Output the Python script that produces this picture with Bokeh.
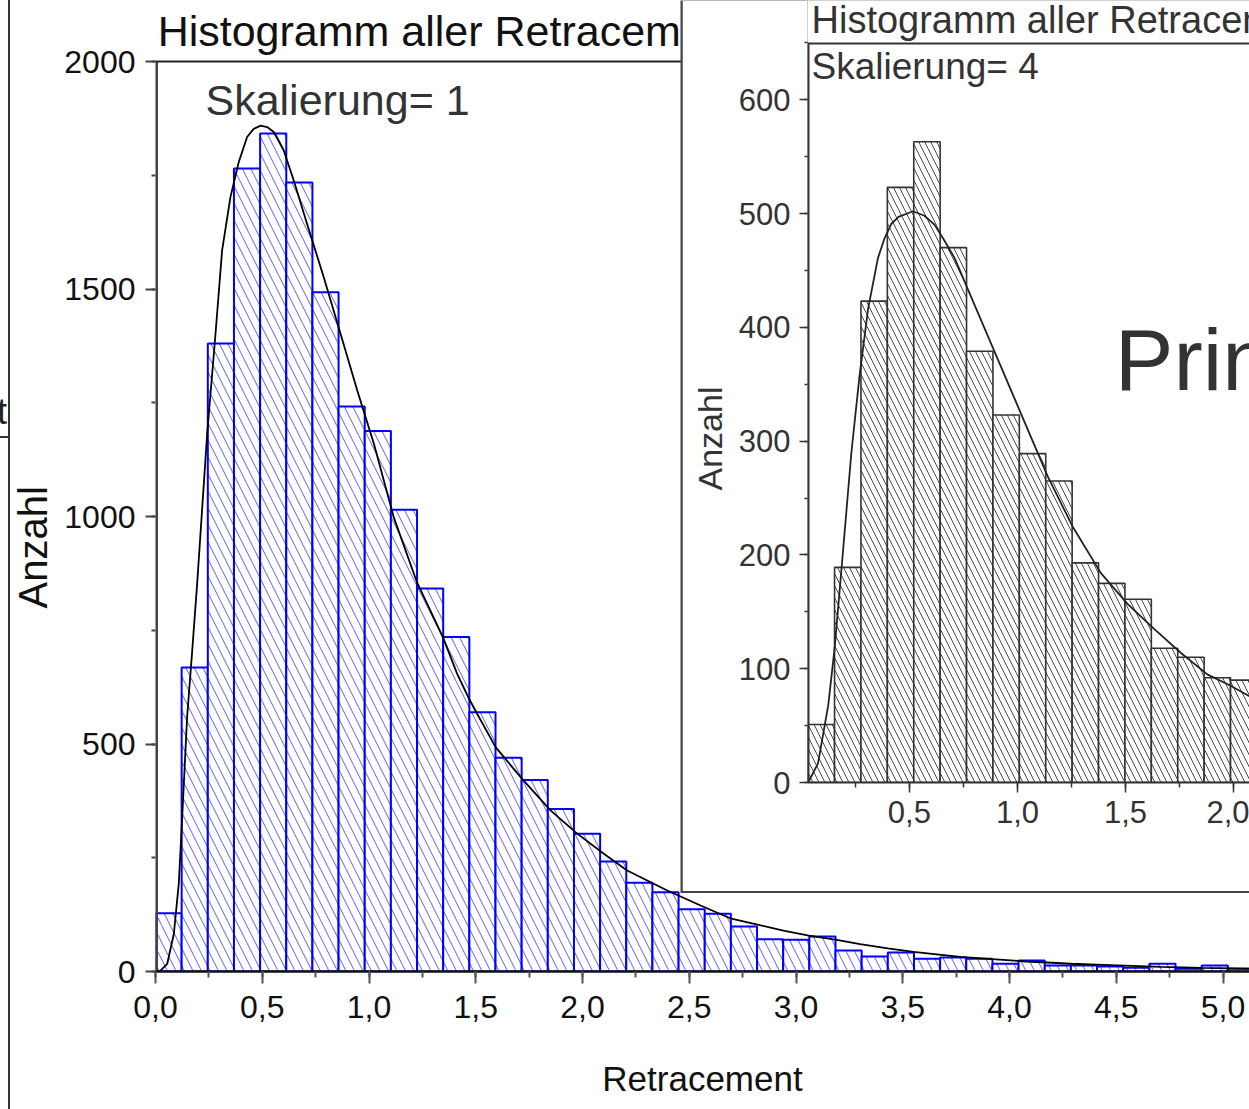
import math
from bokeh.plotting import figure
from bokeh.models import (Range1d, SingleIntervalTicker, CustomJSTickFormatter, Span, Label,
                          GridBox, Title, Div)
from bokeh.embed import file_html
from bokeh.resources import INLINE

# ---------------- data: main histogram (Skalierung = 1) ----------------
main_bin_start = 0.0
main_bin_width = 0.1225
main_counts = [128, 668, 1380, 1765, 1842, 1734, 1493, 1242, 1188, 1015, 842, 735, 570, 470,
               421, 357, 303, 242, 195, 174, 137, 127, 99, 71, 70, 77, 46, 33, 42, 28, 31, 28,
               17, 24, 13, 13, 11, 8, 17, 6, 13, 6, 5]
main_fit_x = [0.02, 0.055, 0.086, 0.109, 0.125, 0.148, 0.172, 0.195, 0.242, 0.281, 0.312, 0.351,
              0.390, 0.429, 0.460, 0.492, 0.523, 0.554, 0.601, 0.648, 0.710, 0.788, 0.867, 0.945,
              1.023, 1.116, 1.225, 1.346, 1.413, 1.468, 1.507, 1.593, 1.714, 1.850, 1.975, 2.100,
              2.209, 2.397, 2.553, 2.697, 2.82, 2.941, 3.06, 3.184, 3.30, 3.43, 3.55, 3.67, 3.77,
              3.92, 4.08, 4.29, 4.47, 4.71, 4.90, 5.15]
main_fit_y = [0, 17, 83, 193, 339, 559, 705, 852, 1182, 1401, 1585, 1702, 1779, 1834, 1852, 1859,
              1856, 1845, 1804, 1738, 1643, 1526, 1401, 1277, 1160, 998, 855, 735, 654, 600, 566,
              493, 425, 354, 303, 259, 222, 178, 145, 116, 103, 90, 79, 70, 60, 51, 43, 37, 32,
              27, 22, 17, 14, 10, 8, 6]
main_y_top = 2000          # top of the main plot box

# ---------------- data: inset histogram (Skalierung = 4) ----------------
inset_bin_start = 0.032
inset_bin_width = 0.1221
inset_counts = [51, 189, 423, 523, 563, 470, 379, 323, 289, 265, 193, 175, 161, 118, 110, 92, 90]
inset_fit_x = [0.032, 0.078, 0.125, 0.155, 0.194, 0.232, 0.270, 0.309, 0.355, 0.385, 0.417, 0.450,
               0.517, 0.570, 0.617, 0.660, 0.709, 0.801, 0.893, 1.001, 1.140, 1.255, 1.386, 1.509,
               1.632, 1.755, 1.878, 1.986, 2.08]
inset_fit_y = [0, 17, 68, 119, 205, 290, 358, 416, 461, 478, 491, 497, 502, 498, 490, 477, 461,
               420, 379, 331, 269, 225, 184, 157, 135, 114, 95, 85, 75]
inset_x_start = 0.029
inset_y_top = 649.4        # top of the inset plot box

comma_fmt = CustomJSTickFormatter(code="return tick.toFixed(1).replace('.', ',');")
REG = "Liberation Sans"

# ---------------- main figure (frame reaches the top of the canvas) ----------------
main_px_per_unit = 910 / 2000
main = figure(width=1249, height=1109, x_range=Range1d(0, 5.124),
              y_range=Range1d(0, 971 / main_px_per_unit),
              output_backend="svg", toolbar_location=None,
              min_border_left=155, min_border_right=0, min_border_top=0, min_border_bottom=138,
              background_fill_color="white", border_fill_color="white")
main.grid.visible = False
main.outline_line_color = None

m_left = [main_bin_start + i * main_bin_width for i in range(len(main_counts))]
m_right = [l + main_bin_width for l in m_left]
main.quad(left=m_left, right=m_right, bottom=0, top=main_counts,
          fill_color="white", line_color="#0000ff", line_width=2,
          hatch_pattern="left_diagonal_line", hatch_color="#5c5cff", hatch_scale=17,
          hatch_weight=1)
main.line(main_fit_x, main_fit_y, line_color="black", line_width=1.8)
main.add_layout(Span(location=main_y_top, dimension="width", line_color="#222222", line_width=2))
main.segment(x0=[0], y0=[0], x1=[0], y1=[main_y_top], line_color="#444444", line_width=5)

xa = main.xaxis[0]
xa.ticker = SingleIntervalTicker(interval=0.5, num_minor_ticks=2)
xa.formatter = comma_fmt
xa.axis_line_color = "#111111"
xa.axis_line_width = 2.5
xa.major_tick_line_color = "#555555"
xa.major_tick_line_width = 2
xa.minor_tick_line_color = "#555555"
xa.minor_tick_line_width = 2
xa.major_tick_in = 0
xa.major_tick_out = 12
xa.minor_tick_in = 0
xa.minor_tick_out = 6
xa.major_label_standoff = 12
xa.major_label_text_font = REG
xa.major_label_text_font_size = "32px"
xa.major_label_text_color = "#111111"
xa.axis_label = "Retracement"
xa.axis_label_text_font = REG
xa.axis_label_text_font_size = "35px"
xa.axis_label_text_font_style = "normal"
xa.axis_label_text_color = "#111111"
xa.axis_label_standoff = 38

ya = main.yaxis[0]
ya.ticker = SingleIntervalTicker(interval=500, num_minor_ticks=2)
ya.axis_line_color = None
ya.major_tick_line_color = "#444444"
ya.major_tick_line_width = 2
ya.minor_tick_line_color = "#444444"
ya.minor_tick_line_width = 2
ya.major_tick_in = 0
ya.major_tick_out = 10
ya.minor_tick_in = 0
ya.minor_tick_out = 4
ya.major_label_standoff = 10
ya.major_label_text_font = REG
ya.major_label_text_font_size = "32px"
ya.major_label_text_color = "#111111"

main.add_layout(Label(x=0.01, y=2066, text="Histogramm aller Retracements",
                      text_font=REG, text_font_size="43px", text_color="#111111",
                      text_baseline="middle", text_align="left"))
main.add_layout(Label(x=0.234, y=1916, text="Skalierung= 1", text_font=REG,
                      text_font_size="43px", text_color="#333333",
                      text_baseline="middle", text_align="left"))
main.add_layout(Title(text="Anzahl", align="left", offset=363, text_font=REG,
                      text_font_size="40px", text_font_style="normal", text_color="#111111",
                      standoff=14), "left")

# ---------------- inset figure ----------------
inset_px_per_unit = 1.138
inset = figure(width=567, height=891, x_range=Range1d(inset_x_start, inset_x_start + 443 / 216.7),
               y_range=Range1d(0, 782 / inset_px_per_unit),
               output_backend="svg", toolbar_location=None,
               min_border_left=124, min_border_right=0, min_border_top=0, min_border_bottom=109,
               background_fill_color="white", border_fill_color="white",
               styles={"position": "relative", "z-index": "2"})
inset.grid.visible = False
inset.outline_line_color = None

i_left = [inset_bin_start + i * inset_bin_width for i in range(len(inset_counts))]
i_right = [l + inset_bin_width for l in i_left]
inset.quad(left=i_left, right=i_right, bottom=0, top=inset_counts,
           fill_color="white", line_color="#333333", line_width=1.6,
           hatch_pattern="left_diagonal_line", hatch_color="#4a4a4a", hatch_scale=12,
           hatch_weight=1)
inset.line(inset_fit_x, inset_fit_y, line_color="#222222", line_width=1.8)
inset.add_layout(Span(location=inset_y_top, dimension="width", line_color="#333333", line_width=2))
inset.segment(x0=[inset_x_start], y0=[0], x1=[inset_x_start], y1=[inset_y_top],
              line_color="#333333", line_width=4)

ixa = inset.xaxis[0]
ixa.ticker = SingleIntervalTicker(interval=0.5, num_minor_ticks=2)
ixa.formatter = comma_fmt
iya = inset.yaxis[0]
iya.ticker = SingleIntervalTicker(interval=100, num_minor_ticks=2)
for ax in (ixa, iya):
    ax.axis_line_color = "#333333"
    ax.axis_line_width = 2
    ax.major_tick_line_color = "#333333"
    ax.major_tick_line_width = 1.5
    ax.minor_tick_line_color = "#333333"
    ax.minor_tick_line_width = 1.5
    ax.major_tick_in = 0
    ax.minor_tick_in = 0
    ax.major_label_text_font = REG
    ax.major_label_text_font_size = "31px"
    ax.major_label_text_color = "#333333"
iya.axis_line_color = None
ixa.major_tick_out = 10
ixa.minor_tick_out = 5
ixa.major_label_standoff = 8
iya.major_tick_out = 8
iya.minor_tick_out = 3
iya.major_label_standoff = 9

inset.add_layout(Label(x=0.0475, y=670, text="Histogramm aller Retracements", text_font=REG,
                       text_font_size="38px", text_color="#333333",
                       text_baseline="middle", text_align="left"))
inset.add_layout(Label(x=0.0475, y=629, text="Skalierung= 4", text_font=REG,
                       text_font_size="37px", text_color="#333333",
                       text_baseline="middle", text_align="left"))
inset.add_layout(Label(x=1.45, y=372, text="Prinzip", text_font=REG, text_font_size="88px",
                       text_color="#333333", text_baseline="middle", text_align="left"))
inset.add_layout(Title(text="Anzahl", align="left", offset=782 - 490, text_font=REG,
                       text_font_size="34px", text_font_style="normal", text_color="#333333",
                       standoff=13), "left")

# ---------------- frame pieces of the pasted screenshot ----------------
backdrop = figure(width=569, height=893, output_backend="svg", toolbar_location=None,
                  x_axis_type=None, y_axis_type=None, min_border=0,
                  background_fill_color="#444444", border_fill_color="#444444",
                  styles={"position": "relative", "z-index": "1"})
backdrop.grid.visible = False
backdrop.outline_line_color = None

strip_html = (
    '<div style="position:relative;width:12px;height:1109px;overflow:hidden;">'
    '<div style="position:absolute;left:8px;top:0px;width:2px;height:1109px;'
    'background:#333333;"></div>'
    '<div style="position:absolute;left:0px;top:436px;width:9px;height:2px;'
    'background:#333333;"></div>'
    '<div style="position:absolute;right:5px;top:394px;font-size:36px;line-height:36px;'
    'font-family:Liberation Sans, Arial, sans-serif;color:#222222;">t</div>'
    '</div>'
)
strip = Div(width=12, height=1109, text=strip_html, margin=0,
            styles={"position": "relative", "z-index": "3"})

grid = GridBox(children=[(main, 0, 0, 3, 4), (backdrop, 0, 2, 2, 2), (inset, 0, 3, 1, 1),
                         (strip, 0, 0, 3, 1)],
               rows=["891px", "2px", "216px"], cols=["12px", "668px", "2px", "567px"],
               spacing=0)

open("out.html", "w").write(file_html(grid, INLINE))
